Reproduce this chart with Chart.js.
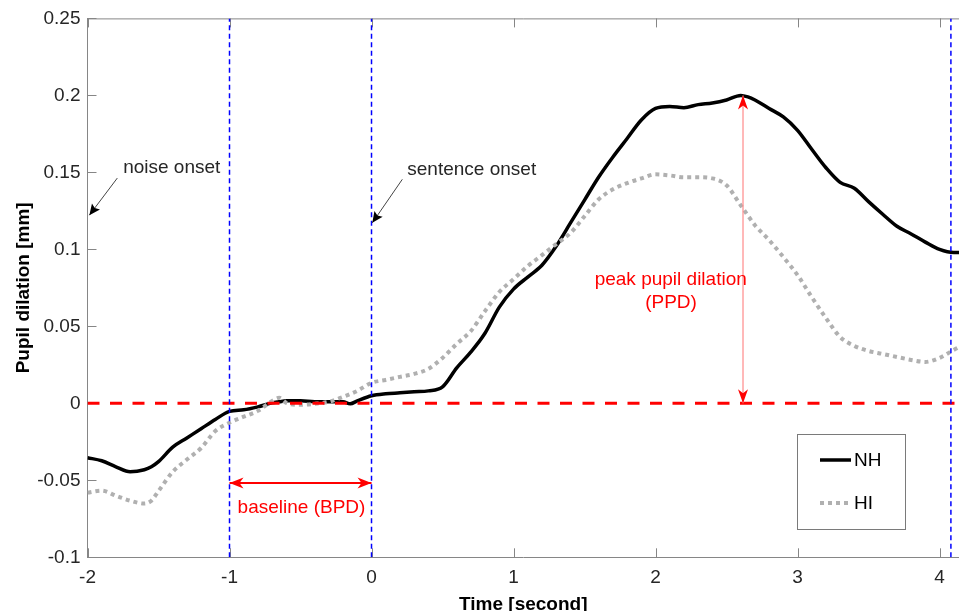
<!DOCTYPE html>
<html>
<head>
<meta charset="utf-8">
<script src="https://cdn.jsdelivr.net/npm/chart.js@4.4.0/dist/chart.umd.min.js"></script>
<style>
  html, body { margin: 0; padding: 0; background: #fff; }
  #wrap { width: 959px; height: 611px; }
</style>
</head>
<body>
<div id="wrap"><canvas id="pupilChart" width="959" height="611"></canvas></div>
<script>
// time axis (seconds) shared by both groups
const time = [-2, -1.9, -1.8, -1.7, -1.6, -1.55, -1.5, -1.4, -1.3, -1.2, -1.1, -1, -0.9, -0.8, -0.7, -0.65,
  -0.6, -0.5, -0.4, -0.3, -0.2, -0.15, -0.1, 0, 0.1, 0.2, 0.3, 0.4, 0.5, 0.6, 0.7, 0.8, 0.9, 1, 1.1, 1.2,
  1.3, 1.4, 1.5, 1.6, 1.7, 1.8, 1.9, 2, 2.1, 2.2, 2.3, 2.4, 2.5, 2.6, 2.65, 2.7, 2.8, 2.9, 3, 3.1, 3.2,
  3.3, 3.4, 3.5, 3.6, 3.7, 3.8, 3.9, 4, 4.1, 4.14];

// normal hearing
const nh = [-0.0353, -0.0373, -0.0412, -0.0444, -0.0431, -0.0412, -0.0379, -0.0285, -0.0225, -0.0165, -0.0105,
  -0.0052, -0.0042, -0.0023, 0.0003, 0.001, 0.0016, 0.0016, 0.001, 0.001, 0.001, -0.0003, 0.0016, 0.0049,
  0.0062, 0.0068, 0.0075, 0.0081, 0.0107, 0.023, 0.0334, 0.0457, 0.0625, 0.0742, 0.082, 0.0897, 0.102, 0.117,
  0.132, 0.147, 0.16, 0.172, 0.184, 0.1915, 0.1928, 0.192, 0.194, 0.195, 0.197, 0.2, 0.199, 0.197, 0.1915,
  0.186, 0.1773, 0.165, 0.153, 0.1435, 0.1397, 0.131, 0.1228, 0.115, 0.11, 0.1047, 0.1, 0.098, 0.098];

// hearing impaired
const hi = [-0.058, -0.0567, -0.06, -0.0632, -0.0651, -0.0632, -0.057, -0.0445, -0.0365, -0.029, -0.018,
  -0.0126, -0.0087, -0.0049, 0.0016, 0.0036, 0.0003, -0.001, -0.0003, 0.001, 0.0042, 0.006, 0.0081, 0.0133,
  0.0152, 0.0172, 0.0191, 0.0224, 0.0295, 0.0386, 0.047, 0.06, 0.0723, 0.0807, 0.0891, 0.0962, 0.1034, 0.1105,
  0.1215, 0.1325, 0.139, 0.143, 0.1461, 0.1487, 0.148, 0.1468, 0.1468, 0.1461, 0.1416, 0.1286, 0.122, 0.1157,
  0.106, 0.095, 0.0833, 0.069, 0.0554, 0.0431, 0.0373, 0.034, 0.0321, 0.0301, 0.0282, 0.0269, 0.0295, 0.0347, 0.0366];

const xTicks = [-2, -1, 0, 1, 2, 3, 4];
const xTickLabels = ["-2", "-1", "0", "1", "2", "3", "4"];
const yTicks = [-0.1, -0.05, 0, 0.05, 0.1, 0.15, 0.2, 0.25];
const yTickLabels = ["-0.1", "-0.05", "0", "0.05", "0.1", "0.15", "0.2", "0.25"];
const markerTimes = [-1, 0, 4.08];   // blue dashed event lines
const peakTime = 2.616;
const peakValue = 0.2;
const baselineLevel = -0.0517;

const X_MIN = -2, X_MAX = 4.137, Y_MIN = -0.1, Y_MAX = 0.25;
const FONT = "'Liberation Sans', Arial, sans-serif";
const AXIS_GRAY = "#868686";
const TEXT_DARK = "#262626";
const RED = "#ff0000";

function pairs(xs, ys) {
  return xs.map((x, i) => ({ x: x, y: ys[i] }));
}

// text notes in data coordinates (alphabetic baseline)
const notes = [
  { text: "noise onset", x: -1.749, y: 0.1496, align: "left", color: TEXT_DARK },
  { text: "sentence onset", x: 0.252, y: 0.1481, align: "left", color: TEXT_DARK },
  { text: "baseline (BPD)", x: -0.493, y: -0.0712, align: "center", color: RED },
  { text: "peak pupil dilation", x: 2.107, y: 0.0768, align: "center", color: RED },
  { text: "(PPD)", x: 2.109, y: 0.0617, align: "center", color: RED }
];

function arrowHead(ctx, fx, fy, tx, ty, len, half, back, color) {
  const a = Math.atan2(ty - fy, tx - fx);
  ctx.save();
  ctx.translate(tx, ty);
  ctx.rotate(a);
  ctx.beginPath();
  ctx.moveTo(0, 0);
  ctx.lineTo(-len, -half);
  ctx.lineTo(-len + back, 0);
  ctx.lineTo(-len, half);
  ctx.closePath();
  ctx.fillStyle = color;
  ctx.fill();
  ctx.restore();
}

function arrowLine(ctx, x1, y1, x2, y2, color, width, both, len, half, back, lineColor) {
  ctx.save();
  ctx.strokeStyle = lineColor || color;
  ctx.lineWidth = width;
  ctx.beginPath();
  ctx.moveTo(x1, y1);
  ctx.lineTo(x2, y2);
  ctx.stroke();
  ctx.restore();
  arrowHead(ctx, x1, y1, x2, y2, len, half, back, color);
  if (both) arrowHead(ctx, x2, y2, x1, y1, len, half, back, color);
}

const framePlugin = {
  id: "frame",
  beforeDatasetsDraw(chart) {
    const { ctx, chartArea: a, scales } = chart;
    ctx.save();
    ctx.strokeStyle = AXIS_GRAY;
    ctx.lineWidth = 1;
    ctx.beginPath();
    ctx.moveTo(a.left, a.top + 0.5);
    ctx.lineTo(a.right, a.top + 0.5);
    xTicks.forEach(v => {
      const px = Math.round(scales.x.getPixelForValue(v)) + 0.5;
      ctx.moveTo(px, a.bottom); ctx.lineTo(px, a.bottom - 9);
      ctx.moveTo(px, a.top); ctx.lineTo(px, a.top + 9);
    });
    yTicks.forEach(v => {
      const py = Math.round(scales.y.getPixelForValue(v)) + 0.5;
      ctx.moveTo(a.left, py); ctx.lineTo(a.left + 9, py);
    });
    ctx.stroke();
    ctx.restore();
  },
  afterDatasetsDraw(chart) {
    const { ctx, scales } = chart;
    const X = v => scales.x.getPixelForValue(v);
    const Y = v => scales.y.getPixelForValue(v);

    // onset pointers
    arrowLine(ctx, X(-1.79), Y(0.1463), X(-1.987), Y(0.1222), "#000", 1, false, 11, 5, 2, "#444");
    arrowLine(ctx, X(0.217), Y(0.1455), X(0.0056), Y(0.1172), "#000", 1, false, 11, 5, 2, "#444");
    // baseline window
    arrowLine(ctx, X(-1), Y(baselineLevel), X(0), Y(baselineLevel), RED, 2, true, 14, 5.5, 4);
    // peak dilation
    arrowLine(ctx, X(peakTime), Y(0), X(peakTime), Y(peakValue), RED, 1.2, true, 14, 5, 4, "#ff8a8a");

    ctx.save();
    ctx.font = "19px " + FONT;
    ctx.textBaseline = "alphabetic";
    notes.forEach(n => {
      ctx.fillStyle = n.color;
      ctx.textAlign = n.align;
      ctx.fillText(n.text, X(n.x), Y(n.y));
    });
    ctx.restore();

    // legend box
    const lx = 797, ly = 434, lw = 108, lh = 95;
    ctx.save();
    ctx.fillStyle = "#fff";
    ctx.fillRect(lx, ly, lw, lh);
    ctx.strokeStyle = "#7a7a7a";
    ctx.lineWidth = 1;
    ctx.strokeRect(lx + 0.5, ly + 0.5, lw, lh);
    const items = chart.data.datasets.slice(0, 2);
    items.forEach((ds, i) => {
      const yy = ly + 26 + i * 43;
      ctx.strokeStyle = ds.borderColor;
      ctx.lineWidth = ds.borderWidth;
      ctx.setLineDash(ds.borderDash || []);
      ctx.beginPath();
      ctx.moveTo(lx + 23, yy);
      ctx.lineTo(lx + 54, yy);
      ctx.stroke();
      ctx.setLineDash([]);
      ctx.fillStyle = "#000";
      ctx.font = "19px " + FONT;
      ctx.textAlign = "left";
      ctx.textBaseline = "middle";
      ctx.fillText(ds.label, lx + 57, yy + 1);
    });
    ctx.restore();
  }
};

const ctx = document.getElementById("pupilChart").getContext("2d");

const pupilChart = new Chart(ctx, {
  type: "line",
  data: {
    datasets: [
      {
        label: "NH",
        data: pairs(time, nh),
        borderColor: "#000000",
        borderWidth: 3.5,
        pointRadius: 0,
        cubicInterpolationMode: "monotone",
        fill: false,
        order: 3
      },
      {
        label: "HI",
        data: pairs(time, hi),
        borderColor: "#b0b0b0",
        borderWidth: 4,
        borderDash: [4, 4],
        borderCapStyle: "butt",
        pointRadius: 0,
        cubicInterpolationMode: "monotone",
        fill: false,
        order: 2
      },
      {
        label: "zero",
        data: [{ x: X_MIN, y: 0 }, { x: X_MAX, y: 0 }],
        borderColor: RED,
        borderWidth: 3,
        borderDash: [12, 10.5],
        pointRadius: 0,
        order: 1
      },
      ...markerTimes.map(t => ({
        label: "marker",
        data: [{ x: t, y: Y_MIN }, { x: t, y: Y_MAX }],
        borderColor: "#0000ff",
        borderWidth: 1.5,
        borderDash: [5, 3.5],
        pointRadius: 0,
        order: 0
      }))
    ]
  },
  options: {
    responsive: false,
    animation: false,
    devicePixelRatio: 1,
    layout: { padding: { top: 17.3, right: 0, bottom: 0, left: 0 } },
    plugins: {
      legend: { display: false },
      tooltip: { enabled: false }
    },
    scales: {
      x: {
        type: "linear",
        min: X_MIN,
        max: X_MAX,
        afterBuildTicks: s => { s.ticks = xTicks.map(v => ({ value: v })); },
        afterFit: s => { s.height = 53.7; },
        grid: { display: false, drawTicks: false },
        border: { display: true, color: AXIS_GRAY, width: 1 },
        ticks: {
          color: TEXT_DARK,
          font: { family: FONT, size: 19 },
          padding: 9,
          maxRotation: 0,
          autoSkip: false,
          callback: (v, i) => xTickLabels[i]
        },
        title: {
          display: true,
          text: "Time [second]",
          color: "#000",
          font: { family: FONT, size: 19, weight: "bold" },
          padding: { top: 0, bottom: -5 }
        }
      },
      y: {
        type: "linear",
        min: Y_MIN,
        max: Y_MAX,
        afterBuildTicks: s => { s.ticks = yTicks.map(v => ({ value: v })); },
        afterFit: s => { s.width = 87.5; },
        grid: { display: false, drawTicks: false },
        border: { display: true, color: AXIS_GRAY, width: 1 },
        ticks: {
          color: TEXT_DARK,
          font: { family: FONT, size: 19 },
          padding: 7,
          autoSkip: false,
          callback: (v, i) => yTickLabels[i]
        },
        title: {
          display: true,
          text: "Pupil dilation [mm]",
          color: "#000",
          font: { family: FONT, size: 19, weight: "bold" },
          padding: { top: 12, bottom: 0 }
        }
      }
    }
  },
  plugins: [framePlugin]
});
</script>
</body>
</html>
